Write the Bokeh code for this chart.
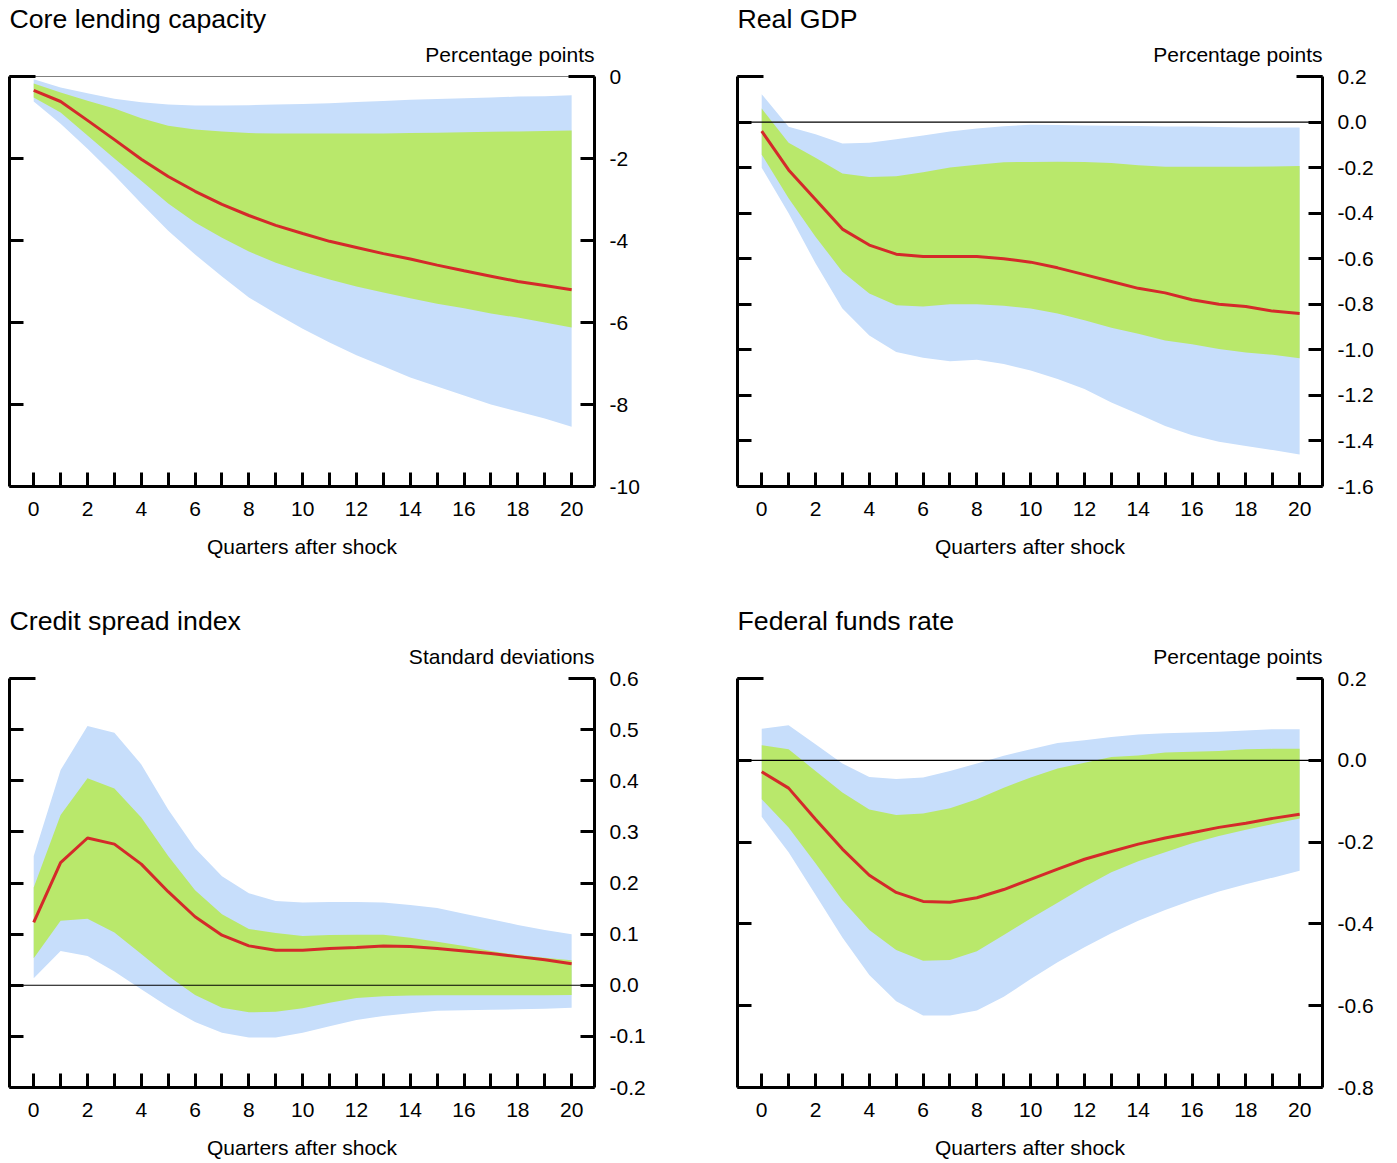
from bokeh.plotting import figure
from bokeh.models import LinearAxis, FixedTicker, Span, Title, Range1d
from bokeh.layouts import column, row
from bokeh.embed import file_html
from bokeh.resources import INLINE

# ---------------- data ----------------
quarters = list(range(21))
x_ticks = [0, 2, 4, 6, 8, 10, 12, 14, 16, 18, 20]
x_minor = [1, 3, 5, 7, 9, 11, 13, 15, 17, 19]
x_label = "Quarters after shock"

# Panel 1: Core lending capacity
title1 = "Core lending capacity"
units1 = "Percentage points"
y1_ticks = [0, -2, -4, -6, -8, -10]
y1_labels = ["0", "-2", "-4", "-6", "-8", "-10"]
red1 = [-0.34, -0.61, -1.07, -1.54, -2.02, -2.44, -2.80, -3.12, -3.39, -3.63, -3.83,
        -4.02, -4.17, -4.32, -4.45, -4.60, -4.74, -4.87, -5.00, -5.10, -5.20]
g1_hi = [-0.17, -0.39, -0.59, -0.78, -1.02, -1.20, -1.29, -1.34, -1.38, -1.39, -1.39,
         -1.39, -1.39, -1.39, -1.38, -1.37, -1.36, -1.35, -1.34, -1.33, -1.32]
g1_lo = [-0.51, -0.88, -1.44, -2.00, -2.54, -3.10, -3.56, -3.93, -4.27, -4.54, -4.76,
         -4.95, -5.12, -5.27, -5.41, -5.54, -5.65, -5.78, -5.88, -6.00, -6.12]
b1_hi = [-0.07, -0.27, -0.41, -0.54, -0.63, -0.68, -0.71, -0.71, -0.70, -0.68, -0.67,
         -0.65, -0.62, -0.60, -0.57, -0.55, -0.53, -0.51, -0.49, -0.48, -0.46]
b1_lo = [-0.61, -1.15, -1.76, -2.41, -3.10, -3.76, -4.34, -4.88, -5.39, -5.78, -6.15,
         -6.49, -6.80, -7.07, -7.34, -7.56, -7.78, -8.00, -8.17, -8.34, -8.54]

# Panel 2: Real GDP
title2 = "Real GDP"
units2 = "Percentage points"
y2_ticks = [0.2, 0.0, -0.2, -0.4, -0.6, -0.8, -1.0, -1.2, -1.4, -1.6]
y2_labels = ["0.2", "0.0", "-0.2", "-0.4", "-0.6", "-0.8", "-1.0", "-1.2", "-1.4", "-1.6"]
red2 = [-0.04, -0.21, -0.34, -0.47, -0.54, -0.58, -0.59, -0.59, -0.59, -0.60, -0.615,
        -0.64, -0.67, -0.70, -0.73, -0.75, -0.78, -0.80, -0.81, -0.83, -0.84]
g2_hi = [0.059, -0.091, -0.157, -0.226, -0.241, -0.238, -0.22, -0.20, -0.187, -0.176, -0.175,
         -0.174, -0.175, -0.18, -0.19, -0.196, -0.196, -0.196, -0.196, -0.195, -0.193]
g2_lo = [-0.143, -0.334, -0.503, -0.657, -0.753, -0.804, -0.81, -0.80, -0.80, -0.806, -0.819,
         -0.841, -0.87, -0.903, -0.929, -0.959, -0.976, -0.996, -1.012, -1.022, -1.037]
b2_hi = [0.122, -0.021, -0.054, -0.094, -0.091, -0.076, -0.059, -0.041, -0.028, -0.018, -0.012,
         -0.013, -0.015, -0.016, -0.017, -0.019, -0.020, -0.022, -0.024, -0.024, -0.024]
b2_lo = [-0.201, -0.40, -0.62, -0.819, -0.937, -1.01, -1.035, -1.05, -1.044, -1.062, -1.091,
         -1.128, -1.172, -1.231, -1.282, -1.334, -1.375, -1.404, -1.422, -1.44, -1.459]

# Panel 3: Credit spread index
title3 = "Credit spread index"
units3 = "Standard deviations"
y3_ticks = [0.6, 0.5, 0.4, 0.3, 0.2, 0.1, 0.0, -0.1, -0.2]
y3_labels = ["0.6", "0.5", "0.4", "0.3", "0.2", "0.1", "0.0", "-0.1", "-0.2"]
red3 = [0.123, 0.24, 0.288, 0.276, 0.237, 0.183, 0.134, 0.098, 0.077, 0.0685, 0.0685,
        0.072, 0.074, 0.077, 0.0757, 0.072, 0.067, 0.062, 0.056, 0.05, 0.042]
g3_hi = [0.191, 0.333, 0.405, 0.385, 0.328, 0.253, 0.186, 0.139, 0.11, 0.102, 0.0965,
         0.0985, 0.099, 0.099, 0.093, 0.085, 0.077, 0.067, 0.059, 0.054, 0.049]
g3_lo = [0.053, 0.126, 0.13, 0.103, 0.061, 0.018, -0.019, -0.044, -0.053, -0.052, -0.045,
         -0.034, -0.025, -0.0215, -0.02, -0.0196, -0.0196, -0.0196, -0.0196, -0.0196, -0.019]
b3_hi = [0.253, 0.421, 0.507, 0.494, 0.432, 0.344, 0.268, 0.213, 0.18, 0.165, 0.162,
         0.163, 0.163, 0.162, 0.157, 0.151, 0.14, 0.129, 0.118, 0.108, 0.10]
b3_lo = [0.0137, 0.067, 0.057, 0.027, -0.008, -0.042, -0.072, -0.093, -0.102, -0.102, -0.093,
         -0.08, -0.068, -0.06, -0.055, -0.05, -0.049, -0.048, -0.047, -0.046, -0.044]

# Panel 4: Federal funds rate
title4 = "Federal funds rate"
units4 = "Percentage points"
y4_ticks = [0.2, 0.0, -0.2, -0.4, -0.6, -0.8]
y4_labels = ["0.2", "0.0", "-0.2", "-0.4", "-0.6", "-0.8"]
red4 = [-0.028, -0.068, -0.144, -0.217, -0.281, -0.323, -0.345, -0.347, -0.336, -0.316, -0.291,
        -0.266, -0.242, -0.223, -0.205, -0.19, -0.177, -0.164, -0.154, -0.142, -0.132]
g4_hi = [0.037, 0.027, -0.026, -0.079, -0.12, -0.134, -0.13, -0.117, -0.095, -0.067, -0.042,
         -0.02, -0.006, 0.008, 0.012, 0.019, 0.021, 0.023, 0.027, 0.028, 0.028]
g4_lo = [-0.095, -0.164, -0.252, -0.342, -0.415, -0.464, -0.49, -0.488, -0.467, -0.427, -0.387,
         -0.348, -0.309, -0.274, -0.247, -0.225, -0.203, -0.185, -0.17, -0.156, -0.142]
b4_hi = [0.077, 0.086, 0.039, -0.008, -0.041, -0.046, -0.042, -0.026, -0.008, 0.011, 0.027,
         0.042, 0.049, 0.057, 0.063, 0.066, 0.068, 0.07, 0.073, 0.076, 0.076]
b4_lo = [-0.138, -0.225, -0.329, -0.433, -0.525, -0.589, -0.624, -0.624, -0.612, -0.578, -0.535,
         -0.494, -0.457, -0.423, -0.392, -0.366, -0.342, -0.321, -0.303, -0.287, -0.27]

# ---------------- style ----------------
FONT = "Liberation Sans"
BLUE = "#c7defb"
GREEN = "#b9e86b"
RED = "#d42a2a"
TICK_FS = "21px"


def make_panel(title, units, ticks, labels, red, g_hi, g_lo, b_hi, b_lo,
               width, height, left_border, right_border, bottom_border):
    ymin, ymax = min(ticks), max(ticks)
    p = figure(width=width, height=height,
               x_range=Range1d(-0.9, 20.85), y_range=Range1d(ymin, ymax),
               output_backend="svg", toolbar_location=None, title=None,
               y_axis_location="right",
               min_border_left=left_border, min_border_right=right_border,
               min_border_top=76, min_border_bottom=bottom_border)
    p.outline_line_color = None
    p.grid.visible = False
    p.background_fill_color = "white"
    p.border_fill_color = "white"

    p.varea(x=quarters, y1=b_lo, y2=b_hi, fill_color=BLUE)
    p.varea(x=quarters, y1=g_lo, y2=g_hi, fill_color=GREEN)
    p.add_layout(Span(location=0, dimension="width", line_color="black", line_width=1.2))
    p.line(x=quarters, y=red, line_color=RED, line_width=3)

    overrides = dict(zip(ticks, labels))

    def style_y(ax, show_labels):
        ax.ticker = FixedTicker(ticks=ticks, minor_ticks=[ymax])
        ax.axis_line_width = 3
        ax.axis_line_color = "black"
        ax.major_tick_in = 14
        ax.major_tick_out = 0
        ax.major_tick_line_width = 3
        ax.minor_tick_in = 26
        ax.minor_tick_out = 0
        ax.minor_tick_line_width = 3
        if show_labels:
            ax.major_label_overrides = overrides
            ax.major_label_text_font = FONT
            ax.major_label_text_font_size = TICK_FS
            ax.major_label_text_color = "black"
            ax.major_label_standoff = 15
        else:
            ax.major_label_text_font_size = "0px"
            ax.major_label_text_color = None
            ax.major_label_standoff = 0

    style_y(p.yaxis[0], True)
    left_ax = LinearAxis()
    style_y(left_ax, False)
    p.add_layout(left_ax, "left")

    xa = p.xaxis[0]
    xa.ticker = FixedTicker(ticks=x_ticks, minor_ticks=x_minor)
    xa.axis_line_width = 3
    xa.axis_line_color = "black"
    xa.major_tick_in = 14
    xa.major_tick_out = 0
    xa.major_tick_line_width = 3
    xa.minor_tick_in = 14
    xa.minor_tick_out = 0
    xa.minor_tick_line_width = 3
    xa.major_label_text_font = FONT
    xa.major_label_text_font_size = TICK_FS
    xa.major_label_text_color = "black"
    xa.major_label_standoff = 15
    xa.axis_label = x_label
    xa.axis_label_text_font = FONT
    xa.axis_label_text_font_size = TICK_FS
    xa.axis_label_text_font_style = "normal"
    xa.axis_label_text_color = "black"
    xa.axis_label_standoff = 16

    p.add_layout(Title(text=units, align="right", vertical_align="top", text_font=FONT,
                       text_font_size="21px", text_font_style="normal",
                       text_color="black", standoff=18), "above")
    p.add_layout(Title(text=title, align="left", text_font=FONT, text_font_size="26.7px",
                       text_font_style="normal", text_color="black", standoff=0), "above")
    return p


p1 = make_panel(title1, units1, y1_ticks, y1_labels, red1, g1_hi, g1_lo, b1_hi, b1_lo,
                736, 602, 9, 142, 116)
p2 = make_panel(title2, units2, y2_ticks, y2_labels, red2, g2_hi, g2_lo, b2_hi, b2_lo,
                654, 602, 1, 68, 116)
p3 = make_panel(title3, units3, y3_ticks, y3_labels, red3, g3_hi, g3_lo, b3_hi, b3_lo,
                736, 561, 9, 142, 76)
p4 = make_panel(title4, units4, y4_ticks, y4_labels, red4, g4_hi, g4_lo, b4_hi, b4_lo,
                654, 561, 1, 68, 76)

layout = column(row(p1, p2), row(p3, p4))
open("out.html", "w").write(file_html(layout, INLINE))
